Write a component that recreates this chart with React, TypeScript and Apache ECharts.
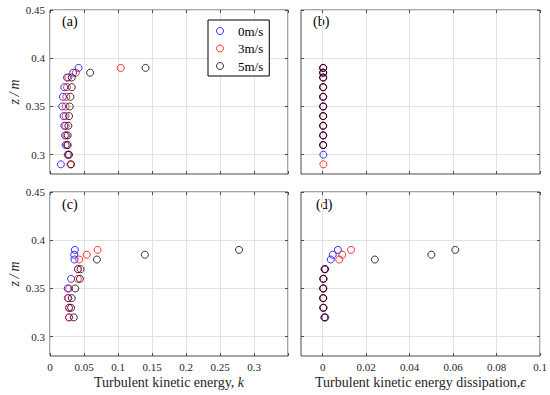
import React, { useEffect, useRef } from 'react';
import * as echarts from 'echarts';

// Heights (z, m)
const heightsTop = [0.29, 0.30, 0.31, 0.32, 0.33, 0.34, 0.35, 0.36, 0.37, 0.38, 0.385, 0.39];
const heightsBottom = [0.32, 0.33, 0.34, 0.35, 0.36, 0.37, 0.38, 0.385, 0.39];

const speeds = ['0m/s', '3m/s', '5m/s'];

// (a) turbulent kinetic energy, heightsTop
const kA0 = [0.016, 0.026, 0.023, 0.022, 0.021, 0.020, 0.018, 0.019, 0.021, 0.025, 0.034, 0.042];
const kA3 = [0.030, 0.027, 0.025, 0.024, 0.023, 0.023, 0.023, 0.024, 0.025, 0.027, 0.038, 0.104];
const kA5 = [0.031, 0.028, 0.026, 0.026, 0.027, 0.028, 0.029, 0.030, 0.032, 0.032, 0.059, 0.1405];

// (b) dissipation, heightsTop
const eB0 = [null, 0.0003, 0.0002, 0.0002, 0.0002, 0.0002, 0.0002, 0.0002, 0.0002, 0.0002, 0.0002, 0.0002];
const eB3 = [0.0003, null, 0.0002, 0.0002, 0.0002, 0.0002, 0.0002, 0.0002, 0.0002, 0.0002, 0.0002, 0.0002];
const eB5 = [null, null, 0.0002, 0.0002, 0.0002, 0.0002, 0.0002, 0.0002, 0.0002, 0.0002, 0.0002, 0.0002];

// (c) turbulent kinetic energy, heightsBottom
const kC0 = [0.028, 0.028, 0.027, 0.026, 0.031, 0.041, 0.036, 0.0356, 0.0366];
const kC3 = [0.028, 0.028, 0.026, 0.028, 0.041, 0.041, 0.043, 0.054, 0.070];
const kC5 = [0.035, 0.031, 0.032, 0.037, 0.044, 0.045, 0.069, 0.1395, 0.278];

// (d) dissipation, heightsBottom
const eD0 = [0.0012, 0.0003, 0.0002, 0.0002, 0.0002, 0.0008, 0.0037, 0.0046, 0.007];
const eD3 = [0.0008, 0.0004, 0.0003, 0.0003, 0.0004, 0.0012, 0.0076, 0.009, 0.013];
const eD5 = [0.0008, 0.0002, 0.0002, 0.0002, 0.0003, 0.001, 0.024, 0.050, 0.061];

// Tick values
const yTicks = [0.3, 0.35, 0.4, 0.45];
const kTicks = [0, 0.05, 0.1, 0.15, 0.2, 0.25, 0.3, 0.35];
const kLabels = [0, 0.05, 0.1, 0.15, 0.2, 0.25, 0.3];
const eTicks = [0, 0.02, 0.04, 0.06, 0.08, 0.1];
const eLabels = [0, 0.02, 0.04, 0.06, 0.08, 0.1];

const panelLabels = ['(a)', '(b)', '(c)', '(d)'];

const FONT = "'Liberation Serif', 'DejaVu Serif', serif";
const COLORS = ['#0000ff', '#ff0000', '#000000'];

export default function App() {
  const ref = useRef<HTMLDivElement>(null);

  useEffect(() => {
    if (!ref.current) return;
    const chart = echarts.init(ref.current, null, { renderer: 'svg' });

    const grids = [
      { left: 50, top: 10, width: 238, height: 164 },
      { left: 301, top: 10, width: 239, height: 164 },
      { left: 50, top: 192, width: 238, height: 164 },
      { left: 301, top: 192, width: 239, height: 164 },
    ].map((g) => ({
      ...g,
      show: true,
      borderColor: '#4d4d4d',
      borderWidth: 1,
      backgroundColor: '#ffffff',
      containLabel: false,
      outerBoundsMode: 'none',
    }));

    const fmt = (v: number) => String(+(+v).toFixed(4));

    const panelDefs = [
      { kind: 'k', heights: heightsTop, sets: [kA0, kA3, kA5], showX: false, showY: true },
      { kind: 'e', heights: heightsTop, sets: [eB0, eB3, eB5], showX: false, showY: false },
      { kind: 'k', heights: heightsBottom, sets: [kC0, kC3, kC5], showX: true, showY: true },
      { kind: 'e', heights: heightsBottom, sets: [eD0, eD3, eD5], showX: true, showY: false },
    ];

    const xAxes: any[] = [];
    const yAxes: any[] = [];
    const series: any[] = [];
    const tickStyle = { color: '#4d4d4d' };

    panelDefs.forEach((p, i) => {
      const isK = p.kind === 'k';
      const ticks = isK ? kTicks : eTicks;
      const labels = isK ? kLabels : eLabels;
      xAxes.push({
        type: 'value',
        gridIndex: i,
        min: isK ? 0 : -0.01,
        max: isK ? 0.35 : 0.1,
        axisLine: { show: false, onZero: false },
        axisTick: { show: true, inside: true, length: 3, customValues: ticks, lineStyle: tickStyle },
        axisLabel: {
          show: p.showX,
          customValues: labels,
          formatter: fmt,
          fontFamily: FONT,
          fontSize: 11,
          color: '#262626',
          margin: 5,
        },
        splitLine: { show: true, lineStyle: { color: '#e2e2e2', width: 1 } },
        name: p.showX
          ? isK
            ? '{n|Turbulent kinetic energy, }{i|k}'
            : '{n|Turbulent kinetic energy dissipation,}{i|\u03f5}'
          : '',
        nameLocation: 'middle',
        nameGap: 19,
        nameTextStyle: {
          fontFamily: FONT,
          fontSize: 14,
          color: '#262626',
          rich: {
            n: { fontFamily: FONT, fontSize: 14, color: '#262626' },
            i: { fontFamily: FONT, fontSize: 14, color: '#262626', fontStyle: 'italic' },
          },
        },
      });
      yAxes.push({
        type: 'value',
        gridIndex: i,
        min: 0.28,
        max: 0.45,
        axisLine: { show: false, onZero: false },
        axisTick: { show: true, inside: true, length: 3, customValues: yTicks, lineStyle: tickStyle },
        axisLabel: {
          show: p.showY,
          customValues: yTicks,
          formatter: fmt,
          fontFamily: FONT,
          fontSize: 11,
          color: '#262626',
          margin: 5,
        },
        splitLine: { show: true, lineStyle: { color: '#e2e2e2', width: 1 } },
        name: p.showY ? 'z\u2009/\u2009m' : '',
        nameLocation: 'middle',
        nameGap: 29,
        nameTextStyle: { fontFamily: FONT, fontSize: 14, color: '#262626', fontStyle: 'italic' },
      });
      p.sets.forEach((vals, s) => {
        series.push({
          type: 'scatter',
          name: speeds[s],
          xAxisIndex: i,
          yAxisIndex: i,
          symbol: 'circle',
          symbolSize: 7,
          silent: true,
          itemStyle: { color: 'rgba(0,0,0,0)', borderColor: COLORS[s], borderWidth: 1 },
          data: p.heights
            .map((h, j) => (vals[j] == null ? null : [vals[j], h]))
            .filter((d) => d !== null),
        });
      });
    });

    // Secondary axes for top / right inside ticks (box style)
    panelDefs.forEach((p, i) => {
      const isK = p.kind === 'k';
      xAxes.push({
        type: 'value',
        gridIndex: i,
        position: 'top',
        min: isK ? 0 : -0.01,
        max: isK ? 0.35 : 0.1,
        axisLine: { show: false, onZero: false },
        axisTick: { show: true, inside: true, length: 3, customValues: isK ? kTicks : eTicks, lineStyle: tickStyle },
        axisLabel: { show: false },
        splitLine: { show: false },
      });
      yAxes.push({
        type: 'value',
        gridIndex: i,
        position: 'right',
        min: 0.28,
        max: 0.45,
        axisLine: { show: false, onZero: false },
        axisTick: { show: true, inside: true, length: 3, customValues: yTicks, lineStyle: tickStyle },
        axisLabel: { show: false },
        splitLine: { show: false },
      });
    });

    const labelPos = [
      [62, 21],
      [313, 21],
      [62, 204],
      [316, 204],
    ];

    chart.setOption({
      animation: false,
      backgroundColor: '#ffffff',
      textStyle: { fontFamily: FONT },
      grid: grids,
      xAxis: xAxes,
      yAxis: yAxes,
      series,
      legend: {
        data: speeds.map((n, i) => ({
          name: n,
          icon: 'circle',
          itemStyle: { color: 'rgba(0,0,0,0)', borderColor: COLORS[i], borderWidth: 1 },
        })),
        orient: 'vertical',
        left: 208,
        top: 20,
        itemWidth: 26,
        itemHeight: 7,
        itemGap: 3.5,
        padding: [4, 6, 3, 8],
        borderColor: '#000',
        borderWidth: 1,
        backgroundColor: '#fff',
        selectedMode: false,
        textStyle: { fontFamily: FONT, fontSize: 13, color: '#000', lineHeight: 14 },
      },
      graphic: panelLabels.map((t, i) => ({
        type: 'text',
        x: labelPos[i][0],
        y: labelPos[i][1],
        style: {
          text: t,
          fontFamily: FONT,
          fontSize: 14,
          fill: '#000',
          verticalAlign: 'middle',
        },
      })),
    });

    return () => chart.dispose();
  }, []);

  return (
    <div
      ref={ref}
      style={{ position: 'fixed', left: 0, top: 0, width: 550, height: 395, background: '#fff' }}
    />
  );
}
